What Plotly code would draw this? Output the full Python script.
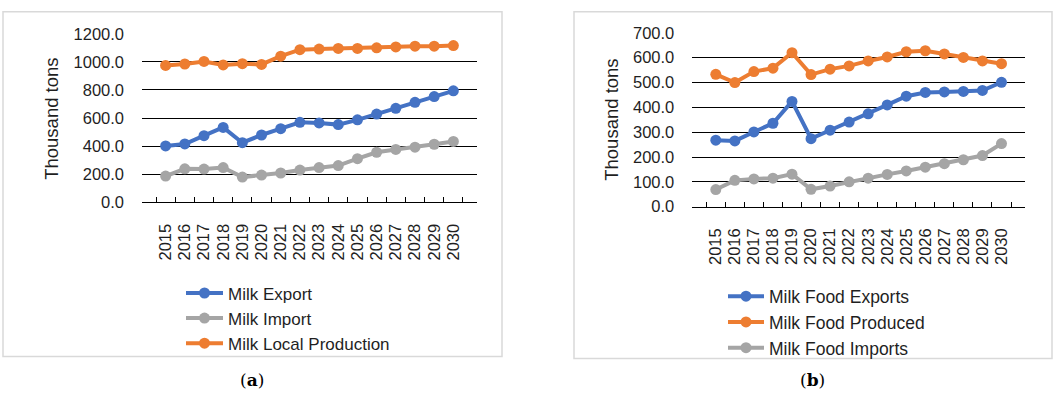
import plotly.graph_objects as go

years = [str(y) for y in range(2015, 2031)]

# Panel (a)
milk_export = [401, 415, 474, 533, 424, 479, 524, 569, 565, 553, 587, 628, 669, 712, 753, 794]
milk_import = [186, 238, 236, 247, 179, 193, 208, 229, 247, 261, 310, 356, 376, 392, 413, 433]
milk_local = [975, 985, 1003, 978, 987, 982, 1041, 1087, 1091, 1096, 1096, 1100, 1107, 1112, 1112, 1116]

# Panel (b)
food_exports = [268, 265, 301, 336, 424, 274, 308, 341, 374, 410, 445, 460, 462, 464, 468, 501]
food_produced = [533, 500, 544, 558, 620, 532, 554, 567, 587, 603, 624, 628, 615, 601, 587, 576]
food_imports = [69, 106, 112, 115, 131, 70, 83, 100, 115, 130, 144, 159, 173, 189, 206, 254]

BLUE = "#4472C4"
ORANGE = "#ED7D31"
GRAY = "#A5A5A5"
FONT = "Liberation Sans"
TXT = "#1f1f1f"
W, H = 1056, 400


def px(x):
    return x / W


def py(y):
    return 1 - y / H


fig = go.Figure()


def add(x, y, name, color, xa, ya, legend):
    fig.add_trace(go.Scatter(
        x=x, y=y, name=name, mode="lines+markers",
        line=dict(color=color, width=4),
        marker=dict(color=color, size=11),
        xaxis=xa, yaxis=ya, legend=legend,
    ))


add(years, milk_export, "Milk Export", BLUE, "x", "y", "legend")
add(years, milk_import, "Milk Import", GRAY, "x", "y", "legend")
add(years, milk_local, "Milk Local Production", ORANGE, "x", "y", "legend")

add(years, food_exports, "Milk Food Exports", BLUE, "x2", "y2", "legend2")
add(years, food_produced, "Milk Food Produced", ORANGE, "x2", "y2", "legend2")
add(years, food_imports, "Milk Food Imports", GRAY, "x2", "y2", "legend2")

xcommon = dict(
    type="category", showgrid=False, showline=True, linecolor="black", linewidth=1,
    ticks="inside", ticklen=5, tickcolor="black", tickwidth=1, tickson="boundaries",
    tickmode="linear", tick0=0, dtick=1,
    tickangle=-90, tickfont=dict(family=FONT, size=16.5, color=TXT),
    ticklabelstandoff=14, zeroline=False, fixedrange=True,
)
ycommon = dict(
    showgrid=True, gridcolor="black", gridwidth=1, showline=False, zeroline=False,
    tickformat=".1f", tickfont=dict(family=FONT, size=16.5, color=TXT),
    ticks="", ticklabelstandoff=17, fixedrange=True,
)

fig.update_layout(
    width=W, height=H,
    margin=dict(l=0, r=0, t=0, b=0),
    paper_bgcolor="white", plot_bgcolor="white",
    font=dict(family=FONT, color=TXT),
    xaxis=dict(domain=[px(142), px(477)], anchor="y", **xcommon),
    yaxis=dict(domain=[py(202.3), py(26)], anchor="x", range=[0, 1200], dtick=200, **ycommon),
    xaxis2=dict(domain=[px(692.3), px(1025)], anchor="y2", **xcommon),
    yaxis2=dict(domain=[py(207), py(25)], anchor="x2", range=[0, 700], dtick=100, **ycommon),
    legend=dict(x=px(181), y=py(279), xanchor="left", yanchor="top",
                font=dict(family=FONT, size=17, color=TXT),
                itemwidth=37, bgcolor="rgba(0,0,0,0)", tracegroupgap=0),
    legend2=dict(x=px(723), y=py(282), xanchor="left", yanchor="top",
                 font=dict(family=FONT, size=17.5, color=TXT),
                 itemwidth=36, bgcolor="rgba(0,0,0,0)", tracegroupgap=0),
    showlegend=True,
    shapes=[
        dict(type="rect", xref="paper", yref="paper", x0=px(3), x1=px(502), y0=py(364), y1=py(3),
             line=dict(color="#D9D9D9", width=1.5), layer="below"),
        dict(type="rect", xref="paper", yref="paper", x0=px(574), x1=px(1052), y0=py(366), y1=py(3),
             line=dict(color="#D9D9D9", width=1.5), layer="below"),
    ],
    annotations=[
        dict(text="Thousand tons", textangle=-90, xref="paper", yref="paper",
             x=px(52), y=py(115), xanchor="center", yanchor="middle", showarrow=False,
             font=dict(family=FONT, size=18.5, color=TXT)),
        dict(text="Thousand tons", textangle=-90, xref="paper", yref="paper",
             x=px(612), y=py(116), xanchor="center", yanchor="middle", showarrow=False,
             font=dict(family=FONT, size=18.5, color=TXT)),
        dict(text="(<b>a</b>)", xref="paper", yref="paper", x=px(252), y=py(388),
             xanchor="center", yanchor="middle", showarrow=False,
             font=dict(family="DejaVu Serif", size=17, color="black")),
        dict(text="(<b>b</b>)", xref="paper", yref="paper", x=px(812), y=py(388),
             xanchor="center", yanchor="middle", showarrow=False,
             font=dict(family="DejaVu Serif", size=17, color="black")),
    ],
)

fig.write_html("out.html")
